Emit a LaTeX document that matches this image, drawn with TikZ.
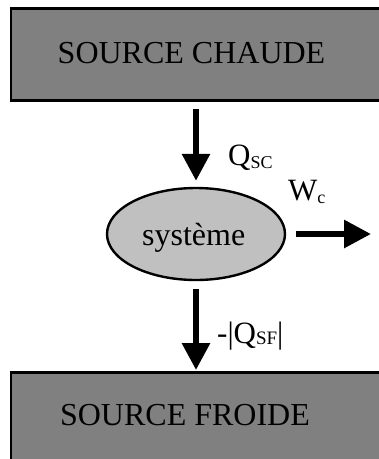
\documentclass[tikz,border=0pt]{standalone}
\usepackage{fontspec}
\setmainfont{Liberation Serif}
\usetikzlibrary{arrows.meta,shapes.geometric}
\definecolor{boxgray}{HTML}{808080}
\definecolor{ellgray}{HTML}{C0C0C0}
\begin{document}
\begin{tikzpicture}[x=1pt,y=-1pt,
  sourcebox/.style={draw=black,line width=2.6pt,fill=boxgray,rectangle,inner sep=0pt,minimum width=391pt,minimum height=92pt,anchor=north west},
  bigtext/.style={font=\fontsize{32}{38}\selectfont,inner sep=0pt,anchor=base},
  lbl/.style={font=\fontsize{31}{36}\selectfont,inner sep=0pt,anchor=base west},
  arr/.style={line width=6pt,-{Triangle[length=27pt,width=27pt]}}]
\clip (0,0) rectangle (379,459);
\fill[white] (0,0) rectangle (379,459);
\node[sourcebox] (top) at (9.5,7) {};
\node[bigtext] (toptext) at (191.5,63.5) {SOURCE CHAUDE};
\node[sourcebox] (bot) at (9.5,371) {};
\node[bigtext] (bottext) at (185,425) {SOURCE FROIDE};
\node[ellipse,draw=black,line width=2.4pt,fill=ellgray,minimum width=178pt,minimum height=92pt,inner sep=0pt] (sys) at (196,234) {};
\node[bigtext] (systext) at (193.7,245) {système};
\coordinate (wend) at (371,234);
\draw[arr,shorten <=7pt,shorten >=6pt] (top.south -| sys.north) -- (sys.north);
\draw[arr,shorten <=8pt,shorten >=1pt] (sys.south) -- (sys.south |- bot.north);
\draw[arr,shorten <=10pt] (sys.east) -- (wend);
\node[lbl] (qsc) at (228,165) {Q\raisebox{-3pt}{\fontsize{18}{18}\selectfont SC}};
\node[lbl] (wc) at (288,200) {W\raisebox{-3pt}{\fontsize{18}{18}\selectfont c}};
\node[lbl] (qsf) at (217,343) {-|Q\raisebox{-1pt}{\fontsize{19}{19}\selectfont SF}|};
\end{tikzpicture}
\end{document}
